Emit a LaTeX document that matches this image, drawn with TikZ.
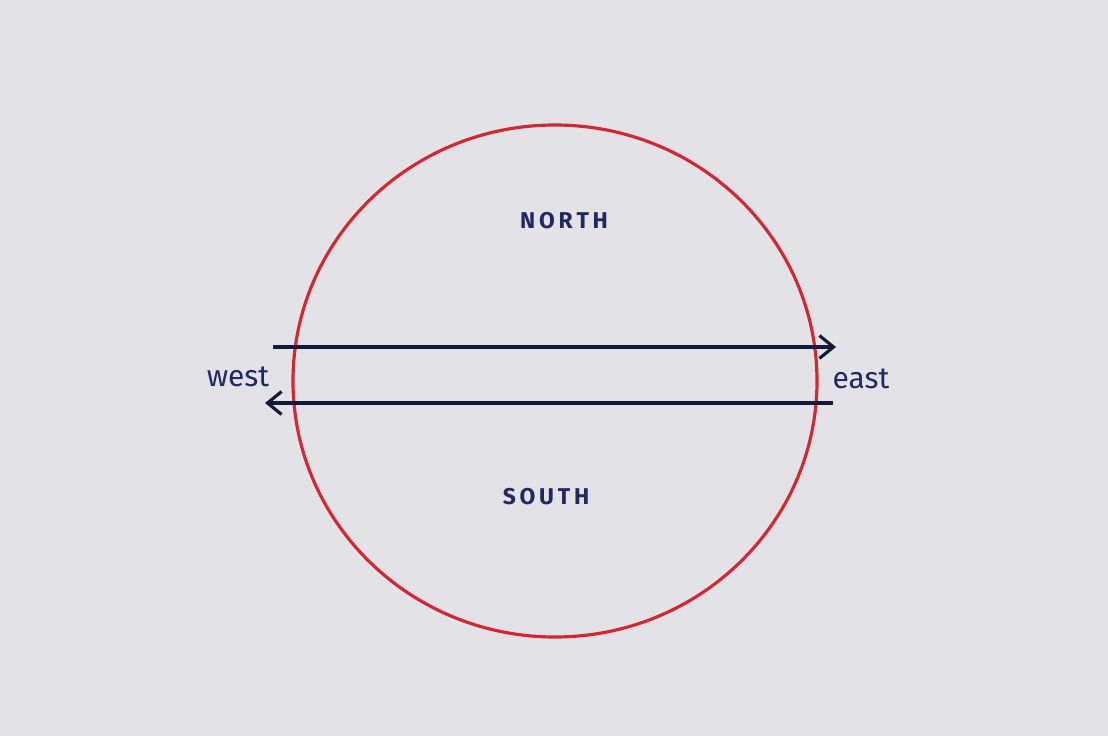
\documentclass[tikz,border=0pt]{standalone}
\usepackage{fontspec}
\setmainfont{Fira Sans}
\usetikzlibrary{arrows.meta, shapes.geometric}

\definecolor{paper}{RGB}{226,226,231}
\definecolor{penred}{RGB}{210,40,52}
\definecolor{penink}{RGB}{22,26,58}
\definecolor{penblue}{RGB}{34,40,96}

\begin{document}
\begin{tikzpicture}[
        pole/.style={font=\fontsize{13}{15}\selectfont, text=penblue},
        side/.style={font=\fontsize{17}{20}\selectfont, text=penblue},
        globe/.style={draw=penred, line width=1.8pt},
        arr/.style={-{Straight Barb[length=8pt, width=13pt, line width=1.8pt]},
            draw=penink, line width=2pt},
    ]

    % =============================================
    % PAPER
    % =============================================
    \fill[paper] (0,0) rectangle (22.16,-14.72);
    \useasboundingbox (0,0) rectangle (22.16,-14.72);

    % =============================================
    % GLOBE
    % =============================================
    \node[globe, ellipse, minimum width=10.48cm, minimum height=10.24cm,
        inner sep=0pt] (globe) at (11.10,-7.62) {};

    \node[pole] (north) at (11.28,-4.42) {\textbf{N\,O\,R\,T\,H}};
    \node[pole] (south) at (10.92,-9.94) {\textbf{S\,O\,U\,T\,H}};

    % =============================================
    % DIRECTIONS
    % =============================================
    \node[side] (west) at (4.76,-7.54) {west};
    \node[side] (east) at (17.22,-7.58) {east};

    \coordinate (eastA) at (5.46,-6.94);
    \coordinate (eastB) at (16.72,-6.94);
    \coordinate (westA) at (16.66,-8.06);
    \coordinate (westB) at (5.30,-8.06);

    \draw[arr] (eastA) -- (eastB);
    \draw[arr] (westA) -- (westB);

\end{tikzpicture}
\end{document}
